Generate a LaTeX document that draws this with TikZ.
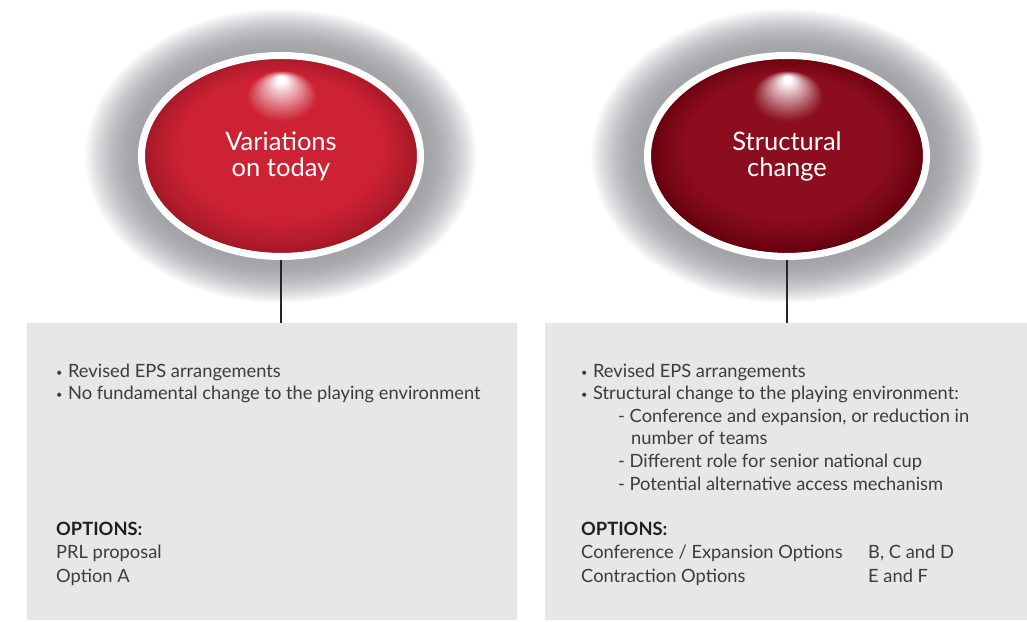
\documentclass[tikz,border=0pt]{standalone}
\usepackage{fontspec}
\setmainfont{Lato}
\usetikzlibrary{shapes.geometric}
\definecolor{redLa}{RGB}{204,34,52}
\definecolor{redLc}{RGB}{164,24,38}
\definecolor{redRa}{RGB}{140,14,30}
\definecolor{redRc}{RGB}{102,0,14}
\definecolor{haloIn}{RGB}{162,164,168}
\definecolor{boxgray}{RGB}{230,231,232}
\definecolor{txt}{RGB}{60,60,62}
\definecolor{txtb}{RGB}{35,31,32}
\tikzset{
  bubble/.style={ellipse, minimum width=279pt, minimum height=201pt, inner sep=0pt,
    draw=white, line width=7pt, text=white, align=center,
    font=\fontsize{25.5}{26}\selectfont},
  panel/.style={fill=boxgray, draw=none},
  stem/.style={line width=1.6pt, black!85},
  body/.style={anchor=base west, inner sep=0pt, text=txt, font=\fontsize{18.3}{22}\selectfont},
  head/.style={body, text=txtb, font=\fontsize{18.3}{22}\selectfont\bfseries},
}
\newcommand{\bul}{{\fontsize{11}{11}\selectfont\raisebox{0.2ex}{•}}\hspace{0.3em}}
% \orb{cx}{cy}{light}{dark}
\newcommand{\orb}[4]{%
  \foreach \i in {0,...,60}{%
    \pgfmathsetmacro\t{\i/60}%
    \pgfmathsetmacro\p{100*(1-\t)^1.8}%
    \fill[white!\p!haloIn] (#1,#2-2) ellipse [x radius={197-54*\t}, y radius={148-44*\t}];
  }%
  \foreach \i in {0,...,40}{%
    \pgfmathsetmacro\t{\i/40}%
    \pgfmathsetmacro\p{min(100,100*(\t/0.32)^0.8)}%
    \fill[#3!\p!#4] (#1,{#2+20*\t}) ellipse [x radius={137-110*\t}, y radius={99-85*\t}];
  }%
  \foreach \i in {0,...,30}{%
    \pgfmathsetmacro\t{\i/30}%
    \pgfmathsetmacro\p{100*\t^1.1}%
    \fill[white!\p!#3] ({#1+1},{#2+57+17*\t}) ellipse [x radius={36-32*\t}, y radius={26-22*\t}];
  }%
}
\begin{document}
\begin{tikzpicture}[x=1pt,y=1pt]
\useasboundingbox (0,0) rectangle (1027,621);
% boxes
\path[panel] (27,1) rectangle (517,298);
\path[panel] (545,1) rectangle (1027,298);
\coordinate (boxL) at (281,298);
\coordinate (boxR) at (787,298);
% orbs
\orb{281}{467}{redLa}{redLc}
\orb{787}{467}{redRa}{redRc}
\node[bubble] (ellL) at (281,465) {Variations\\on today};
\node[bubble] (ellR) at (787,465) {Structural\\change};
% stems
\draw[stem] (ellL.south) -- (boxL);
\draw[stem] (ellR.south) -- (boxR);
% left text
\node[body] (l1) at (56,243) {\bul Revised EPS arrangements};
\node[body] (l2) at (56,221) {\bul No fundamental change to the playing environment};
\node[head] (l3) at (56,86) {OPTIONS:};
\node[body] (l4) at (56,63) {PRL proposal};
\node[body] (l5) at (56,39) {Option A};
% right text
\node[body] (r1) at (581,243) {\bul Revised EPS arrangements};
\node[body] (r2) at (581,221) {\bul Structural change to the playing environment:};
\node[body] (r3) at (618,198) {- Conference and expansion, or reduction in};
\node[body] (r4) at (631,176) {number of teams};
\node[body] (r5) at (618,153) {- Different role for senior national cup};
\node[body] (r6) at (618,130) {- Potential alternative access mechanism};
\node[head] (r7) at (581,86) {OPTIONS:};
\node[body] (r8) at (581,63) {Conference / Expansion Options};
\node[body] (r9) at (581,39) {Contraction Options};
\node[body] (r10) at (868,63) {B, C and D};
\node[body] (r11) at (868,39) {E and F};
\end{tikzpicture}
\end{document}
